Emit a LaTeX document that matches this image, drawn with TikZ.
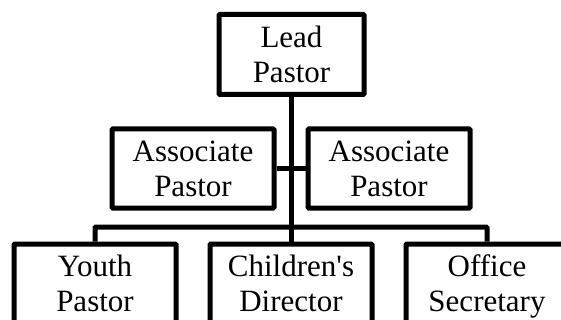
\documentclass[tikz,border=0pt]{standalone}
\usepackage{fontspec}
\setmainfont{Liberation Serif}
\begin{document}
\begin{tikzpicture}[x=1pt,y=-1pt,
  role/.style={draw, line width=5pt, rounded corners=1pt, align=center,
    inner sep=0pt, minimum width=162pt, minimum height=79pt,
    font=\fontsize{31}{35}\selectfont},
  link/.style={line width=5pt, rounded corners=1pt}]
\useasboundingbox (0,0) rectangle (561,320);
\clip (0,0) rectangle (561,320);

% top level
\node[role, minimum width=145pt, minimum height=80pt] (lead) at (291.5,54.5) {Lead\\Pastor};

% associates
\node[role] (assocL) at (193,168.5) {Associate\\Pastor};
\node[role] (assocR) at (389,168.5) {Associate\\Pastor};

% staff row
\node[role] (youth)    at (95,283.5)  {Youth\\Pastor};
\node[role] (children) at (291,283.5) {Children\textquotesingle s\\Director};
\node[role] (office)   at (487,283.5) {Office\\\smash{Secretary}};

% connectors
\coordinate (bus) at (291,227);
\draw[link] (lead.south -| children.north) -- (children.north);
\draw[link] (assocL.east) -- (assocR.west);
\draw[link] (youth.north) |- (bus) -| (office.north);
\end{tikzpicture}
\end{document}
